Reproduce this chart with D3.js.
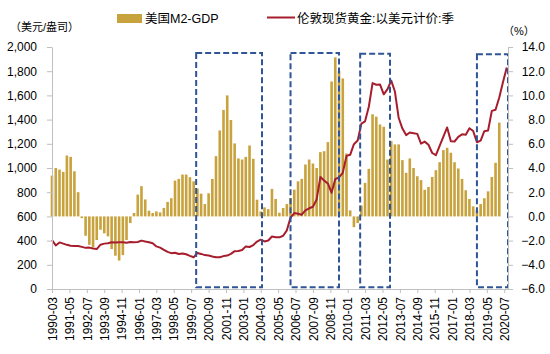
<!DOCTYPE html>
<html>
<head>
<meta charset="utf-8">
<script src="https://cdn.jsdelivr.net/npm/d3@7"></script>
<style>
  body { margin: 0; background: #fff; }
  text { font-family: "Liberation Sans", "Noto Sans CJK SC", sans-serif; fill: #000; }
</style>
</head>
<body>
<svg id="chart"></svg>
<script>
const width = 550;
const height = 354;

// quarterly series, first quarter = 1990-03
const firstQuarter = "1990-03";

// 美国M2-GDP (%), right axis, 1990-03 .. 2020-03
const m2gdp = [
  3.37, 4.0, 3.87, 3.68, 5.03, 4.92, 3.73, 2.0,
  -0.14, -1.6, -2.35, -2.55, -1.95, -1.1, -1.4, -1.65,
  -2.7, -3.25, -3.65, -3.2, -1.95, -0.55, 0.28, 1.8,
  2.5, 1.4, 0.47, 0.28, 0.41, 0.33, 0.7, 1.2,
  1.5, 2.96, 3.1, 3.46, 3.46, 3.24, 2.9, 2.3,
  1.88, 1.02, 1.91, 3.1, 4.98, 7.1, 8.8, 10.0,
  7.97, 6.03, 4.79, 4.7, 4.92, 5.86, 4.76, 1.38,
  0.41, 0.75, 0.6, 2.27, 1.44, 0.3, 0.69, 1.02,
  1.52, 2.21, 2.9, 3.1, 4.29, 4.7, 4.37, 4.0,
  5.31, 5.39, 6.14, 11.15, 13.14, 12.0, 11.4, 5.2,
  0.5, -0.89, -0.55, 0.9, 2.77, 3.93, 8.44, 8.24,
  7.6, 7.41, 4.7, 6.22, 5.95, 5.95, 4.65, 3.6,
  4.79, 4.0, 3.32, 3.0, 2.2, 2.43, 3.26, 3.82,
  4.48, 5.48, 5.67, 5.26, 4.48, 3.96, 3.1, 2.16,
  1.44, 0.83, 0.5, 1.02, 1.5, 2.07, 3.26, 4.43,
  7.75
];

// 伦敦现货黄金:以美元计价:季 (美元/盎司), left axis, 1990-03 .. 2020-09
const gold = [
  405, 360, 385, 375, 365, 357, 356, 355,
  348, 340, 342, 335, 330, 366, 375, 378,
  386, 384, 386, 386, 382, 388, 386, 388,
  400, 392, 386, 378, 352, 342, 324, 307,
  296, 300, 289, 294, 287, 274, 262, 298,
  290, 280, 277, 269, 262, 262, 272, 276,
  290, 313, 314, 322, 352, 347, 363, 392,
  408, 393, 401, 434, 427, 427, 440, 485,
  590, 628, 622, 614, 650, 667, 680, 740,
  925, 896, 872, 795, 908, 922, 960, 1100,
  1109, 1197, 1227, 1367, 1386, 1506, 1702, 1688,
  1691, 1609, 1652, 1722, 1632, 1415, 1326, 1272,
  1293, 1288, 1282, 1201, 1218, 1192, 1124, 1106,
  1183, 1260, 1335, 1222, 1219, 1257, 1278, 1275,
  1329, 1306, 1213, 1226, 1304, 1310, 1472, 1481,
  1583, 1711, 1830
];

const xTickLabels = [
  "1990-03", "1991-05", "1992-07", "1993-09", "1994-11", "1996-01", "1997-03",
  "1998-05", "1999-07", "2000-09", "2001-11", "2003-01", "2004-03", "2005-05",
  "2006-07", "2007-09", "2008-11", "2010-01", "2011-03", "2012-05", "2013-07",
  "2014-09", "2015-11", "2017-01", "2018-03", "2019-05", "2020-07"
];
const leftTicks = [0, 200, 400, 600, 800, 1000, 1200, 1400, 1600, 1800, 2000];
const rightTicks = [-6, -4, -2, 0, 2, 4, 6, 8, 10, 12, 14];

// highlighted periods (dashed boxes)
const boxStarts = ["1999-11", "2006-03", "2010-11", "2018-09"];
const boxEnds = ["2004-04", "2009-06", "2012-11", "2020-10"];
const boxTops = [1950, 1950, 1945, 1940];
const boxBottom = 15;

const goldColor = "#C8A23C";
const lineColor = "#A61E2D";
const boxColor = "#2F5597";
const axisColor = "#BFBFBF";

const parse = d3.timeParse("%Y-%m");
const start = parse(firstQuarter);
const qDate = i => d3.timeMonth.offset(start, 3 * i);

const plot = { left: 52, right: 508, top: 47, bottom: 289 };

const svg = d3.select("#chart")
  .attr("width", width)
  .attr("height", height);

const x = d3.scaleTime()
  .domain([start, parse("2020-10")])
  .range([plot.left, plot.right]);

const yL = d3.scaleLinear()
  .domain([0, 2000])
  .range([plot.bottom, plot.top]);

const yR = d3.scaleLinear()
  .domain([-6, 14])
  .range([plot.bottom, plot.top]);

// bars
const barW = 2.6;
svg.append("g")
  .selectAll("rect")
  .data(m2gdp.map((v, i) => ({ date: qDate(i), v })))
  .join("rect")
  .attr("x", d => x(d.date) - barW / 2)
  .attr("y", d => yR(Math.max(0, d.v)))
  .attr("width", barW)
  .attr("height", d => Math.abs(yR(d.v) - yR(0)))
  .attr("fill", goldColor);

// gold price line
const line = d3.line()
  .x(d => x(d.date))
  .y(d => yL(d.v));

svg.append("path")
  .datum(gold.map((v, i) => ({ date: qDate(i), v })))
  .attr("d", line)
  .attr("fill", "none")
  .attr("stroke", lineColor)
  .attr("stroke-width", 2)
  .attr("stroke-linejoin", "round");

// dashed boxes
svg.append("g")
  .selectAll("rect")
  .data(boxStarts.map((s, i) => ({ s: parse(s), e: parse(boxEnds[i]), top: boxTops[i] })))
  .join("rect")
  .attr("x", d => x(d.s))
  .attr("y", d => yL(d.top))
  .attr("width", d => x(d.e) - x(d.s))
  .attr("height", d => yL(boxBottom) - yL(d.top))
  .attr("fill", "none")
  .attr("stroke", boxColor)
  .attr("stroke-width", 2)
  .attr("stroke-dasharray", "6,3");

// axes
function styleAxis(g) {
  g.select(".domain").attr("stroke", axisColor);
  g.selectAll(".tick line").attr("stroke", axisColor);
  g.selectAll(".tick text").attr("font-size", "12px").attr("fill", "#000");
}

svg.append("g")
  .attr("transform", `translate(${plot.left},0)`)
  .call(d3.axisLeft(yL)
    .tickValues(leftTicks)
    .tickFormat(d3.format(","))
    .tickSize(5)
    .tickPadding(10)
    .tickSizeOuter(0))
  .call(styleAxis);

svg.append("g")
  .attr("transform", `translate(${plot.right},0)`)
  .call(d3.axisRight(yR)
    .tickValues(rightTicks)
    .tickFormat(d3.format(".1f"))
    .tickSize(5)
    .tickSizeOuter(0))
  .call(styleAxis)
  .call(g => g.selectAll(".tick text")
    .attr("x", 37)
    .attr("text-anchor", "end"));

svg.append("g")
  .attr("transform", `translate(0,${plot.bottom})`)
  .call(d3.axisBottom(x)
    .tickValues(xTickLabels.map(parse))
    .tickFormat(d3.timeFormat("%Y-%m"))
    .tickSize(4)
    .tickSizeOuter(0))
  .call(styleAxis)
  .call(g => g.selectAll(".tick text")
    .attr("transform", "rotate(-90)")
    .attr("x", -8)
    .attr("y", 0)
    .attr("dy", "0.35em")
    .attr("text-anchor", "end"));

// unit labels
svg.append("text")
  .attr("x", 10)
  .attr("y", 31)
  .attr("font-size", "11px")
  .text("（美元/盎司）");

svg.append("text")
  .attr("x", 503)
  .attr("y", 35)
  .attr("font-size", "11px")
  .text("（%）");

// legend
const legend = svg.append("g");
legend.append("rect")
  .attr("x", 117).attr("y", 14)
  .attr("width", 25).attr("height", 9)
  .attr("fill", goldColor);
legend.append("text")
  .attr("x", 145).attr("y", 23)
  .attr("font-size", "12.5px")
  .text("美国M2-GDP");
legend.append("line")
  .attr("x1", 267).attr("x2", 295)
  .attr("y1", 17.5).attr("y2", 17.5)
  .attr("stroke", lineColor)
  .attr("stroke-width", 2);
legend.append("text")
  .attr("x", 297).attr("y", 23)
  .attr("font-size", "12.5px")
  .text("伦敦现货黄金:以美元计价:季");
</script>
</body>
</html>
